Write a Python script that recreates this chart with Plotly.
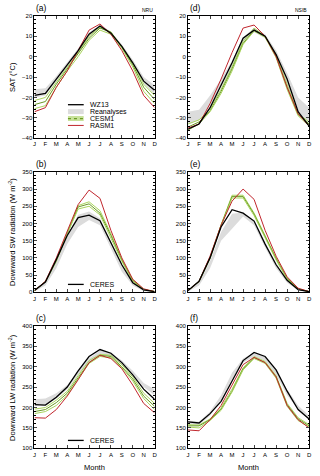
import plotly.graph_objects as go

months = list(range(1, 13))
month_labels = ["J", "F", "M", "A", "M", "J", "J", "A", "S", "O", "N", "D"]

# (a) SAT, NRU
sat_nru_obs = [-19, -18, -11, -4, 3, 11, 15, 11.5, 5, -3, -12, -16.5]
sat_nru_rea_hi = [-16, -15.5, -9.5, -3, 4, 12, 15.5, 12.5, 6, -1.5, -10, -14]
sat_nru_rea_lo = [-20, -19, -12, -5, 2, 10, 14, 11, 4.5, -4, -13, -18.5]
sat_nru_cesm = [[-21.5, -20, -12.5, -5.5, 2, 10, 14.5, 12, 5, -3, -13.5, -19],
                [-23.5, -22, -13.5, -6, 1, 9, 14, 12, 4.5, -4, -15, -21],
                [-25.5, -24, -15, -7, 0, 8, 13, 11, 4, -5, -17, -23]]
sat_nru_rasm = [-27, -25, -15, -7, 3, 13, 16, 11, 3, -7, -19, -25]

# (d) SAT, NSIB
sat_nsib_obs = [-35.5, -33, -25, -14, -3, 9, 13, 10, 1, -11, -27, -34]
sat_nsib_rea_hi = [-27, -26, -19, -11, -2, 9.5, 14, 11, 3, -8, -20, -25]
sat_nsib_rea_lo = [-33, -31, -24, -15, -5, 7, 12, 9, 0, -13, -27, -33]
sat_nsib_cesm = [[-33, -31, -25.5, -16, -5, 7.5, 14, 10, 1, -14, -28, -32],
                 [-34.5, -32, -26.5, -17, -6, 6.5, 13, 10, 0, -15, -28.5, -33],
                 [-36, -33, -27, -18, -7, 6, 12.5, 9.5, -0.5, -16, -29, -34]]
sat_nsib_rasm = [-35, -33, -23, -11, 2, 14, 15.5, 10, 0, -15, -28, -34]

# (b) SW, NRU
sw_nru_obs = [5, 30, 95, 165, 217, 224, 208, 145, 80, 28, 7, 2]
sw_nru_rea_hi = [5, 30, 95, 165, 225, 235, 215, 150, 80, 30, 8, 2]
sw_nru_rea_lo = [2, 20, 70, 140, 190, 210, 195, 125, 60, 20, 3, 0]
sw_nru_cesm = [[5, 31, 95, 175, 252, 263, 237, 170, 96, 36, 9, 2],
               [5, 31, 93, 172, 248, 257, 230, 165, 93, 34, 8, 2],
               [5, 30, 90, 170, 242, 250, 225, 160, 90, 32, 8, 2]]
sw_nru_rasm = [5, 32, 100, 180, 255, 297, 273, 180, 100, 38, 10, 2]

# (e) SW, NSIB
sw_nsib_obs = [5, 32, 100, 190, 240, 230, 207, 140, 80, 35, 8, 2]
sw_nsib_rea_hi = [5, 30, 90, 175, 228, 232, 210, 145, 85, 38, 10, 3]
sw_nsib_rea_lo = [2, 20, 70, 150, 185, 220, 195, 130, 70, 28, 6, 0]
sw_nsib_cesm = [[5, 32, 102, 196, 282, 282, 230, 165, 100, 42, 10, 2],
                [5, 32, 100, 195, 278, 278, 227, 162, 97, 40, 10, 2],
                [5, 31, 98, 193, 274, 274, 223, 158, 94, 38, 9, 2]]
sw_nsib_rasm = [5, 32, 105, 195, 265, 300, 270, 180, 105, 45, 12, 2]

# (c) LW, NRU
lw_nru_obs = [207, 206, 225, 250, 290, 325, 342, 333, 310, 280, 245, 220]
lw_nru_rea_hi = [220, 222, 235, 255, 290, 320, 340, 335, 315, 290, 260, 245]
lw_nru_rea_lo = [205, 205, 222, 245, 280, 310, 330, 325, 305, 280, 250, 230]
lw_nru_cesm = [[196, 200, 218, 240, 278, 315, 330, 328, 305, 275, 235, 210],
               [190, 195, 212, 235, 273, 310, 328, 325, 300, 270, 228, 203],
               [185, 190, 205, 230, 270, 308, 325, 322, 298, 265, 222, 195]]
lw_nru_rasm = [175, 174, 195, 228, 268, 310, 328, 320, 295, 255, 210, 187]

# (f) LW, NSIB
lw_nsib_obs = [165, 162, 185, 215, 265, 315, 335, 325, 292, 240, 195, 172]
lw_nsib_rea_hi = [168, 165, 190, 230, 285, 320, 335, 325, 290, 245, 205, 180]
lw_nsib_rea_lo = [160, 158, 180, 220, 270, 310, 325, 315, 280, 230, 195, 170]
lw_nsib_cesm = [[158, 157, 172, 200, 245, 297, 325, 313, 278, 210, 175, 158],
                [155, 155, 170, 196, 240, 295, 322, 310, 275, 207, 172, 155],
                [152, 150, 168, 193, 238, 292, 320, 308, 272, 203, 168, 152]]
lw_nsib_rasm = [145, 143, 170, 205, 255, 305, 323, 310, 275, 205, 170, 150]

panels = [
    ("(a)", "NRU", sat_nru_obs, sat_nru_rea_hi, sat_nru_rea_lo, sat_nru_cesm, sat_nru_rasm),
    ("(d)", "NSIB", sat_nsib_obs, sat_nsib_rea_hi, sat_nsib_rea_lo, sat_nsib_cesm, sat_nsib_rasm),
    ("(b)", "", sw_nru_obs, sw_nru_rea_hi, sw_nru_rea_lo, sw_nru_cesm, sw_nru_rasm),
    ("(e)", "", sw_nsib_obs, sw_nsib_rea_hi, sw_nsib_rea_lo, sw_nsib_cesm, sw_nsib_rasm),
    ("(c)", "", lw_nru_obs, lw_nru_rea_hi, lw_nru_rea_lo, lw_nru_cesm, lw_nru_rasm),
    ("(f)", "", lw_nsib_obs, lw_nsib_rea_hi, lw_nsib_rea_lo, lw_nsib_cesm, lw_nsib_rasm),
]

W, H = 320, 476
FONT = "Liberation Sans, Arial, sans-serif"
GRAY = "#dcdcdc"
GREEN_LT = "#a9d45e"
GREEN_DK = "#6a9a24"
RED = "#c0262d"

x_doms = [[33 / W, 155 / W], [189 / W, 312 / W]]
rows_px = [(13, 137), (171, 293), (327, 451)]
y_doms = [[1 - b / H, 1 - t / H] for t, b in rows_px]
y_ranges = [[-40, 20], [0, 350], [100, 400]]
y_dticks = [10, 50, 50]
y_minor = [2, 10, 10]

fig = go.Figure()
layout = {}
annotations = []
shapes = []

for i, (tag, region, obs, hi, lo, cesm, rasm) in enumerate(panels):
    r, c = i // 2, i % 2
    n = i + 1
    xa = "x" if n == 1 else f"x{n}"
    ya = "y" if n == 1 else f"y{n}"
    # reanalyses band
    fig.add_trace(go.Scatter(x=months, y=lo, xaxis=xa, yaxis=ya, mode="lines",
                             line=dict(width=0, color=GRAY), showlegend=False))
    fig.add_trace(go.Scatter(x=months, y=hi, xaxis=xa, yaxis=ya, mode="lines",
                             fill="tonexty", fillcolor=GRAY,
                             line=dict(width=0, color=GRAY), showlegend=False))
    # CESM1 members
    for k, member in enumerate(cesm):
        fig.add_trace(go.Scatter(x=months, y=member, xaxis=xa, yaxis=ya, mode="lines",
                                 line=dict(width=1, color=GREEN_DK if k == 1 else GREEN_LT),
                                 showlegend=False))
    fig.add_trace(go.Scatter(x=months, y=rasm, xaxis=xa, yaxis=ya, mode="lines",
                             line=dict(width=1, color=RED), showlegend=False))
    fig.add_trace(go.Scatter(x=months, y=obs, xaxis=xa, yaxis=ya, mode="lines",
                             line=dict(width=1.3, color="black"), showlegend=False))

    key_x = "xaxis" if n == 1 else f"xaxis{n}"
    key_y = "yaxis" if n == 1 else f"yaxis{n}"
    layout[key_x] = dict(domain=x_doms[c], anchor=ya, range=[1, 12],
                         tickvals=months, ticktext=month_labels,
                         ticks="inside", ticklen=3, tickwidth=0.8, mirror="allticks",
                         showline=True, linecolor="black", linewidth=1,
                         showgrid=False, zeroline=False,
                         tickfont=dict(size=6, color="black", family=FONT))
    layout[key_y] = dict(domain=y_doms[r], anchor=xa, range=y_ranges[r],
                         dtick=y_dticks[r], tick0=0,
                         ticks="inside", ticklen=3, tickwidth=0.8, mirror="allticks",
                         minor=dict(dtick=y_minor[r], ticks="inside", ticklen=1.5,
                                    tickwidth=0.6, tickcolor="black"),
                         showline=True, linecolor="black", linewidth=1,
                         showgrid=False, zeroline=False,
                         tickfont=dict(size=6, color="black", family=FONT))

    x0px = 33 if c == 0 else 189
    x1px = 155 if c == 0 else 312
    top = rows_px[r][0]
    annotations.append(dict(x=x0px / W, y=1 - (top - 1) / H, xref="paper", yref="paper",
                            text=tag, showarrow=False, xanchor="left", yanchor="bottom",
                            font=dict(size=8.5, family=FONT, color="black")))
    if region:
        annotations.append(dict(x=x1px / W, y=1 - (top - 1) / H, xref="paper", yref="paper",
                                text=region, showarrow=False, xanchor="right", yanchor="bottom",
                                font=dict(size=5, family=FONT, color="black")))

# y titles
ytitles = ["SAT (\u00b0C)", "Downward SW radiation (W m<sup>-2</sup>)",
           "Downward LW radiation (W m<sup>-2</sup>)"]
for r, t in enumerate(ytitles):
    annotations.append(dict(x=10 / W, y=sum(y_doms[r]) / 2, xref="paper", yref="paper",
                            text=t, textangle=-90, showarrow=False,
                            xanchor="center", yanchor="middle",
                            font=dict(size=7.5, family=FONT, color="black")))
for c in range(2):
    annotations.append(dict(x=sum(x_doms[c]) / 2, y=1 - 470 / H, xref="paper", yref="paper",
                            text="Month", showarrow=False,
                            xanchor="center", yanchor="middle",
                            font=dict(size=7.5, family=FONT, color="black")))

# legends drawn by hand
def leg_line(ypx, color, width, dash="solid"):
    shapes.append(dict(type="line", xref="paper", yref="paper",
                       x0=67 / W, x1=83 / W, y0=1 - ypx / H, y1=1 - ypx / H,
                       line=dict(color=color, width=width, dash=dash)))

def leg_text(ypx, text):
    annotations.append(dict(x=87 / W, y=1 - ypx / H, xref="paper", yref="paper",
                            text=text, showarrow=False, xanchor="left", yanchor="middle",
                            font=dict(size=7, family=FONT, color="black")))

leg_line(103, "black", 1.3)
leg_text(103, "WZ13")
leg_line(110, GRAY, 5)
leg_text(110, "Reanalyses")
leg_line(117, "#c8e29a", 5)
leg_line(117, GREEN_DK, 1.2, "dot")
leg_text(117, "CESM1")
leg_line(124, RED, 1)
leg_text(124, "RASM1")
leg_line(285, "black", 1.3)
leg_text(285, "CERES")
leg_line(443, "black", 1.3)
leg_text(443, "CERES")

fig.update_layout(**layout)
fig.update_layout(width=W, height=H, margin=dict(l=0, r=0, t=0, b=0),
                  plot_bgcolor="white", paper_bgcolor="white",
                  showlegend=False, annotations=annotations, shapes=shapes)

# page body margin would shift the figure; remove it
fig.write_html("out.html", config={"displayModeBar": False},
               post_script="document.body.style.margin='0';")
